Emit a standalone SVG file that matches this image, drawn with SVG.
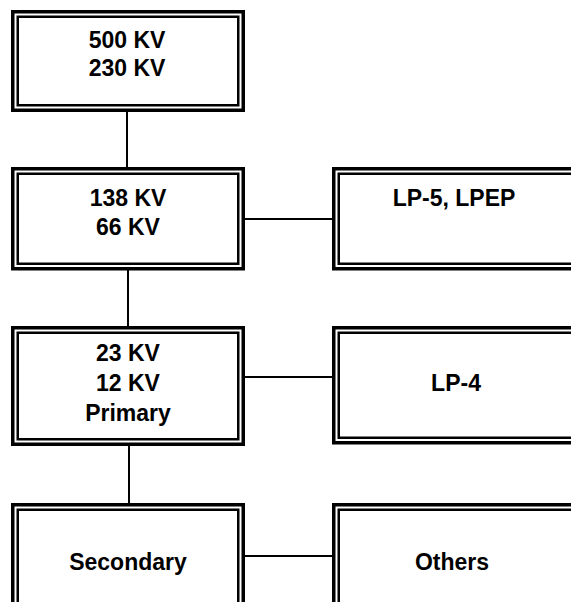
<svg xmlns="http://www.w3.org/2000/svg" width="571" height="602" viewBox="0 0 571 602">
<style>
.o{fill:#fff;stroke:#000;stroke-width:3.5}
.i{fill:none;stroke:#000;stroke-width:2.5}
.t{font-family:"Liberation Sans",Arial,Helvetica,sans-serif;font-weight:bold;font-size:23px;fill:#000;text-anchor:middle}
.c{stroke:#000;stroke-width:2;fill:none}
</style>
<rect width="571" height="602" fill="#fff"/>
<g id="connectors">
<line class="c" x1="127" y1="112" x2="127" y2="167"/>
<line class="c" x1="128" y1="270" x2="128" y2="326"/>
<line class="c" x1="129" y1="446" x2="129" y2="503"/>
<line class="c" x1="245" y1="219" x2="333" y2="219"/>
<line class="c" x1="245" y1="377" x2="333" y2="377"/>
<line class="c" x1="245" y1="556" x2="333" y2="556"/>
</g>
<g id="n500">
<rect class="o" x="12.75" y="11.75" width="230.5" height="98.5"/>
<rect class="i" x="17.75" y="16.75" width="220.5" height="88.5"/>
<text class="t" x="127" y="48">500 KV</text>
<text class="t" x="127" y="76">230 KV</text>
</g>
<g id="n138">
<rect class="o" x="12.75" y="168.75" width="230.5" height="100"/>
<rect class="i" x="17.75" y="173.75" width="220.5" height="90"/>
<text class="t" x="128" y="206">138 KV</text>
<text class="t" x="128" y="235">66 KV</text>
</g>
<g id="n23">
<rect class="o" x="12.75" y="327.75" width="230.5" height="116.5"/>
<rect class="i" x="17.75" y="332.75" width="220.5" height="106.5"/>
<text class="t" x="128" y="361">23 KV</text>
<text class="t" x="128" y="391">12 KV</text>
<text class="t" x="128" y="421">Primary</text>
</g>
<g id="nsec">
<rect class="o" x="12.75" y="504.75" width="230.5" height="110"/>
<rect class="i" x="17.75" y="509.75" width="220.5" height="100"/>
<text class="t" x="128" y="570">Secondary</text>
</g>
<g id="nlp5">
<rect class="o" x="333.75" y="168.75" width="260" height="100"/>
<rect class="i" x="338.75" y="173.75" width="250" height="90"/>
<text class="t" x="454" y="206">LP-5, LPEP</text>
</g>
<g id="nlp4">
<rect class="o" x="333.75" y="327.75" width="260" height="115"/>
<rect class="i" x="338.75" y="332.75" width="250" height="105"/>
<text class="t" x="456" y="391">LP-4</text>
</g>
<g id="noth">
<rect class="o" x="333.75" y="504.75" width="260" height="110"/>
<rect class="i" x="338.75" y="509.75" width="250" height="100"/>
<text class="t" x="452" y="570">Others</text>
</g>
</svg>
